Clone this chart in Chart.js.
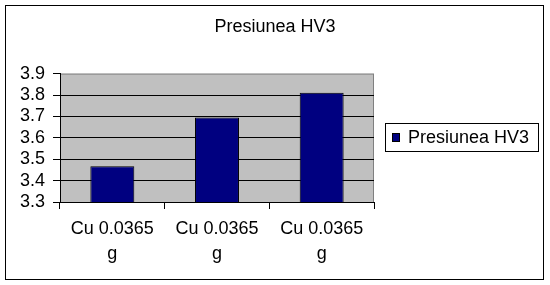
<!DOCTYPE html>
<html>
<head>
<meta charset="utf-8">
<script src="https://cdn.jsdelivr.net/npm/chart.js@4/dist/chart.umd.min.js"></script>
<style>
html,body{margin:0;padding:0;background:#fff;}
#wrap{width:550px;height:285px;position:relative;}
</style>
</head>
<body>
<div id="wrap"><canvas id="c" width="550" height="285"></canvas></div>
<script>
const categories = [["Cu 0.0365", "g"], ["Cu 0.0365", "g"], ["Cu 0.0365", "g"]];
const seriesName = "Presiunea HV3";
const values = [3.467, 3.695, 3.81];
const yTicks = [3.3, 3.4, 3.5, 3.6, 3.7, 3.8, 3.9];
const chartTitle = "Presiunea HV3";

const FONT = "'Liberation Sans', Arial, sans-serif";

const framePlugin = {
  id: 'frame',
  beforeDraw(chart) {
    const ctx = chart.ctx;
    const a = chart.chartArea;
    ctx.save();
    ctx.fillStyle = '#ffffff';
    ctx.fillRect(0, 0, chart.width, chart.height);
    ctx.strokeStyle = '#000000';
    ctx.lineWidth = 1;
    ctx.strokeRect(5.5, 5.5, 538, 274);
    ctx.fillStyle = '#c0c0c0';
    ctx.fillRect(a.left, a.top, a.right - a.left, a.bottom - a.top);
    ctx.strokeStyle = '#808080';
    ctx.strokeRect(a.left + 0.5, a.top + 0.5, a.right - a.left - 1, a.bottom - a.top);
    ctx.restore();
  },
  afterDraw(chart) {
    const ctx = chart.ctx;
    const ds = chart.data.datasets[0];
    ctx.save();
    ctx.strokeStyle = '#000000';
    ctx.lineWidth = 1;
    ctx.fillStyle = '#ffffff';
    ctx.fillRect(385.5, 123.5, 153, 28);
    ctx.strokeRect(385.5, 123.5, 153, 28);
    ctx.fillStyle = ds.backgroundColor;
    ctx.fillRect(392, 133, 8, 9);
    ctx.strokeStyle = '#000000';
    ctx.strokeRect(392.5, 133.5, 7, 8);
    ctx.fillStyle = '#000000';
    ctx.font = '18px ' + FONT;
    ctx.textBaseline = 'middle';
    ctx.textAlign = 'left';
    ctx.fillText(ds.label, 408, 138);
    ctx.restore();
  }
};

new Chart(document.getElementById('c'), {
  type: 'bar',
  data: {
    labels: categories,
    datasets: [{
      label: seriesName,
      data: values,
      backgroundColor: '#000080',
      borderColor: '#000000',
      borderWidth: 1,
      barPercentage: 0.42,
      categoryPercentage: 1.0
    }]
  },
  options: {
    responsive: false,
    animation: false,
    devicePixelRatio: 1,
    layout: { padding: { left: 0, right: 0, top: 0, bottom: 0 } },
    plugins: {
      legend: { display: false },
      tooltip: { enabled: false },
      title: {
        display: true,
        text: chartTitle,
        color: '#000000',
        font: { family: FONT, size: 18, weight: 'normal', lineHeight: 1.2 },
        padding: { top: 16, bottom: 36 }
      }
    },
    scales: {
      x: {
        afterFit(s) { s.height = 83; },
        grid: {
          offset: true,
          drawOnChartArea: false,
          drawTicks: true,
          tickLength: 7,
          tickColor: '#000000',
          color: '#000000'
        },
        border: { display: true, color: '#000000', width: 1 },
        ticks: {
          color: '#000000',
          maxRotation: 0,
          autoSkip: false,
          padding: 8,
          font: { family: FONT, size: 18, lineHeight: 1.38 }
        }
      },
      y: {
        min: 3.3,
        max: 3.9,
        afterFit(s) { s.width = 60; },
        afterBuildTicks(s) { s.ticks = yTicks.map(v => ({ value: v })); },
        grid: {
          drawTicks: true,
          tickLength: 7,
          tickColor: '#000000',
          color: (c) => (c.tick && Math.abs(c.tick.value - 3.9) < 1e-9) ? 'rgba(0,0,0,0)' : '#000000'
        },
        border: { display: true, color: '#000000', width: 1 },
        ticks: {
          color: '#000000',
          padding: 8,
          autoSkip: false,
          font: { family: FONT, size: 18 },
          callback: (v) => Number(v).toFixed(1)
        }
      },
      legendSpace: {
        type: 'linear',
        position: 'right',
        min: 0,
        max: 1,
        afterFit(s) { s.width = 176; },
        grid: { display: false, drawTicks: false },
        border: { display: false },
        ticks: { display: false }
      }
    }
  },
  plugins: [framePlugin]
});
</script>
</body>
</html>
